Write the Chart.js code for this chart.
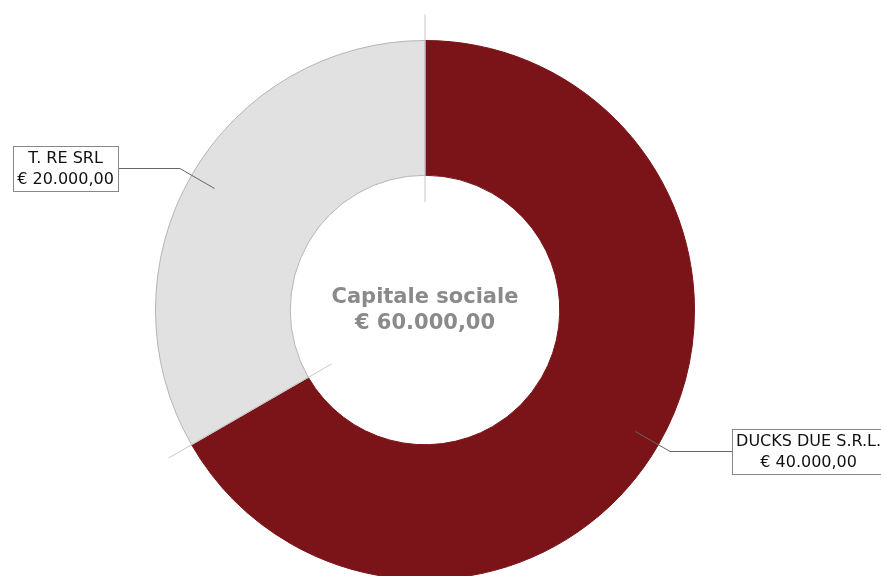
<!DOCTYPE html>
<html>
<head>
<meta charset="utf-8">
<script src="https://cdn.jsdelivr.net/npm/chart.js"></script>
<style>
    html, body { margin: 0; padding: 0; background: #fff; overflow: hidden; }
    #wrap { width: 881px; height: 580px; position: relative; }
</style>
</head>
<body>
<div id="wrap"><canvas id="capitalChart"></canvas></div>
<script>
// Soci e quote
const soci = ['DUCKS DUE S.R.L.', 'T. RE SRL'];
const quote = [40000, 20000];
const coloriSoci = ['#7b1418', '#e1e1e1'];
const titoloCentro = 'Capitale sociale';

function euro(v) {
    return '€ ' + v.toLocaleString('de-DE', { minimumFractionDigits: 2, maximumFractionDigits: 2 });
}

document.addEventListener('DOMContentLoaded', () => {
    const ctx = document.getElementById('capitalChart').getContext('2d');

    // Disegna separatori, etichette con riquadro e testo centrale
    const calloutPlugin = {
        id: 'callout',
        afterDatasetsDraw(chart) {
            const c = chart.ctx;
            const arcs = chart.getDatasetMeta(0).data;
            c.save();

            // linee di separazione tra gli spicchi
            c.strokeStyle = '#c8c8c8';
            c.lineWidth = 1;
            arcs.forEach(a => {
                const ang = a.startAngle;
                const r0 = a.innerRadius - 27, r1 = a.outerRadius + 26;
                c.beginPath();
                c.moveTo(a.x + Math.cos(ang) * r0, a.y + Math.sin(ang) * r0);
                c.lineTo(a.x + Math.cos(ang) * r1, a.y + Math.sin(ang) * r1);
                c.stroke();
            });

            // etichette
            c.font = '16px "DejaVu Sans"';
            c.textAlign = 'center';
            c.textBaseline = 'middle';
            arcs.forEach((a, i) => {
                const mid = (a.startAngle + a.endAngle) / 2;
                const cos = Math.cos(mid), sin = Math.sin(mid);
                const sx = a.x + cos * 243, sy = a.y + sin * 243;
                const ex = a.x + cos * 283, ey = a.y + sin * 283;
                const right = cos >= 0;
                const hx = ex + (right ? 62 : -62);

                c.strokeStyle = '#666';
                c.beginPath();
                c.moveTo(sx, sy);
                c.lineTo(ex, ey);
                c.lineTo(hx, ey);
                c.stroke();

                const lines = [soci[i], euro(quote[i])];
                const w = Math.max(...lines.map(t => c.measureText(t).width)) + 8;
                const h = 45;
                const bx = right ? hx : hx - w;
                const by = ey - h / 2;
                c.fillStyle = '#fff';
                c.fillRect(bx, by, w, h);
                c.strokeStyle = '#888';
                c.strokeRect(Math.round(bx) + 0.5, Math.round(by) + 0.5, Math.round(w), h);
                c.fillStyle = '#111';
                c.fillText(lines[0], bx + w / 2, ey - 10);
                c.fillText(lines[1], bx + w / 2, ey + 11);
            });

            // testo centrale
            const a0 = arcs[0];
            const totale = quote.reduce((s, v) => s + v, 0);
            c.fillStyle = '#8a8a8a';
            c.font = 'bold 21px "DejaVu Sans"';
            c.fillText(titoloCentro, a0.x, a0.y - 12);
            c.fillText(euro(totale), a0.x, a0.y + 14);
            c.restore();
        }
    };

    new Chart(ctx, {
        type: 'doughnut',
        data: {
            labels: soci,
            datasets: [{
                data: quote,
                backgroundColor: coloriSoci,
                borderColor: ['#7b1418', '#b4b4b4'],
                borderWidth: 1
            }]
        },
        options: {
            responsive: true,
            maintainAspectRatio: false,
            animation: false,
            cutout: '50%',
            layout: { padding: { left: 0, right: 31, top: 40, bottom: 0 } },
            plugins: {
                legend: { display: false },
                tooltip: { enabled: false }
            }
        },
        plugins: [calloutPlugin]
    });
});
</script>
</body>
</html>
